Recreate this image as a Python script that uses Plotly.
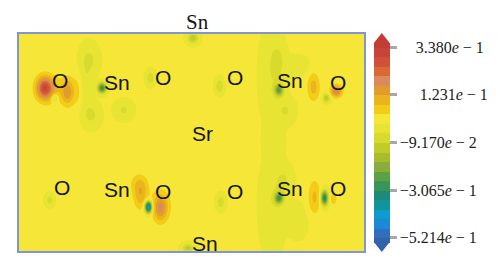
import numpy as np
import plotly.graph_objects as go

# ---- data (grid units: x 0..349, y 0..217, y up) ----
# charge-density-difference lobes
lobe_x  = [26, 49, 36, 84, 71, 67, 73, 106, 133, 203, 176, 263, 256, 256,
           298, 311, 321, 31, 131, 123, 143, 121, 204, 263, 299, 309, 318, 171,
           262, 270, 282, 258, 268, 282, 38, 60, 144]
lobe_y  = [163, 159, 153, 163, 191, 163, 136, 141, 173, 165, 213, 161, 175, 45,
           164, 153, 160, 51, 44, 56, 43, 68, 49, 53, 54, 53, 52, 3,
           190, 140, 185, 110, 70, 30, 160, 160, 46]
lobe_a  = [0.28, 0.12, -0.12, -0.30, -0.06, -0.06, -0.06, -0.055, -0.08, -0.09, -0.12, -0.24, -0.04, -0.04,
           0.10, -0.14, 0.21, -0.07, -0.48, 0.11, 0.14, 0.05, -0.08, -0.26, 0.09, -0.34, 0.08, -0.12,
           -0.045, -0.05, -0.045, -0.04, -0.05, -0.045, 0.06, 0.05, 0.05]
lobe_sx = [6, 4, 2.5, 3, 6, 4, 6, 6, 3, 3, 4, 3, 8, 8,
           4.5, 2.5, 4, 3, 2.5, 5, 5, 7, 3, 3, 4.5, 2.5, 2.5, 4,
           5, 6, 7, 6, 6, 6, 10, 6, 8]
lobe_sy = [8, 9, 3, 3.5, 10, 14, 8, 6, 5, 5, 4, 4, 30, 30,
           10, 3, 4, 4, 4, 10, 9, 7, 5, 4, 12, 5, 4, 3,
           12, 8, 6, 10, 10, 10, 10, 12, 12]

# atom labels
atom_text = ["O", "Sn", "O", "O", "Sn", "O", "Sr", "O", "Sn", "O", "O", "Sn", "O", "Sn"]
atom_x    = [41, 99, 146, 219, 274, 323, 186, 43, 99, 146, 219, 274, 323, 188]
atom_y    = [171, 169, 174, 174, 171, 169, 118, 64, 62, 60, 60, 63, 63, 8]
top_label = "Sn"

# colour bar
zmin, zmax = -0.5214, 0.338
tick_vals = [0.338, 0.1231, -0.0917, -0.3065, -0.5214]
tick_text = ["\u2002\u00a0\u00a03.380<i>e</i> − 1", "\u2002\u00a0\u00a0\u00a01.231<i>e</i> − 1",
             "−9.170<i>e</i> − 2", "−3.065<i>e</i> − 1", "−5.214<i>e</i> − 1"]
band_colors = ["#3462a8", "#2f6fbd", "#1a8ad6", "#0e9ccc", "#12949a", "#1c8c78", "#3a9656",
               "#5ea044", "#86ae38", "#a8bc2e", "#c2cc28", "#d8da2e", "#e8e434", "#f5e638",
               "#f2cc16", "#eab41c", "#e29c2c", "#dc8a5c", "#d86a34", "#d2503a", "#c8443a", "#c43c36"]

# ---- build field ----
gx = np.linspace(0, 349, 350)
gy = np.linspace(0, 217, 218)
X, Y = np.meshgrid(gx, gy)
Z = np.zeros_like(X)
for x0, y0, a, sx, sy in zip(lobe_x, lobe_y, lobe_a, lobe_sx, lobe_sy):
    Z += a * np.exp(-(((X - x0) / sx) ** 2 + ((Y - y0) / sy) ** 2) / 2)

nb = len(band_colors) - 1
cscale = [[i / nb, c] for i, c in enumerate(band_colors)]
step = (zmax - zmin) / 20

fig = go.Figure(go.Contour(
    x=gx, y=gy, z=Z,
    contours=dict(start=zmin, end=zmax, size=step, coloring="fill"),
    line=dict(width=0),
    colorscale=cscale,
    colorbar=dict(
        x=(378 - 19) / 349, xanchor="left",
        y=(251 - 142.5) / 217, yanchor="middle",
        thickness=16, len=200, lenmode="pixels", xpad=0, ypad=0,
        outlinewidth=0, tickvals=tick_vals, ticktext=tick_text,
        ticks="outside", ticklen=7, tickwidth=3, tickcolor="#a8a8a8",
        tickfont=dict(family="Liberation Serif", size=16, color="#222"),
    ),
    hoverinfo="skip",
))

# colour-bar end arrows
def px2paper(px, py):
    return (px - 19) / 349, (251 - py) / 217
ax0, ay0 = px2paper(378, 43)
ax1, _ = px2paper(394, 43)
amx, aty = px2paper(386, 33)
_, by0 = px2paper(378, 242)
_, bty = px2paper(386, 252)
fig.add_shape(type="path", xref="paper", yref="paper",
              path=f"M{ax0},{ay0} L{ax1},{ay0} L{amx},{aty} Z",
              fillcolor=band_colors[-1], line=dict(width=0))
fig.add_shape(type="path", xref="paper", yref="paper",
              path=f"M{ax0},{by0} L{ax1},{by0} L{amx},{bty} Z",
              fillcolor=band_colors[0], line=dict(width=0))

for t, x, y in zip(atom_text, atom_x, atom_y):
    fig.add_annotation(x=x, y=y, text=t, showarrow=False,
                       font=dict(family="Liberation Sans", size=21, color="#151515"))
tx, ty = px2paper(200, 22)
fig.add_annotation(x=tx, y=ty, xref="paper", yref="paper", xanchor="center", yanchor="middle",
                   text=top_label, showarrow=False,
                   font=dict(family="Liberation Serif", size=21, color="#151515"))

axis = dict(showticklabels=False, showgrid=False, zeroline=False, ticks="",
            showline=True, mirror=True, linecolor="#8094d8", linewidth=1.5)
fig.update_layout(
    width=500, height=271, margin=dict(l=19, r=132, t=34, b=20),
    paper_bgcolor="white", plot_bgcolor="white",
    xaxis=dict(range=[0, 349], **axis),
    yaxis=dict(range=[0, 217], **axis),
)
fig.write_html("out.html")
